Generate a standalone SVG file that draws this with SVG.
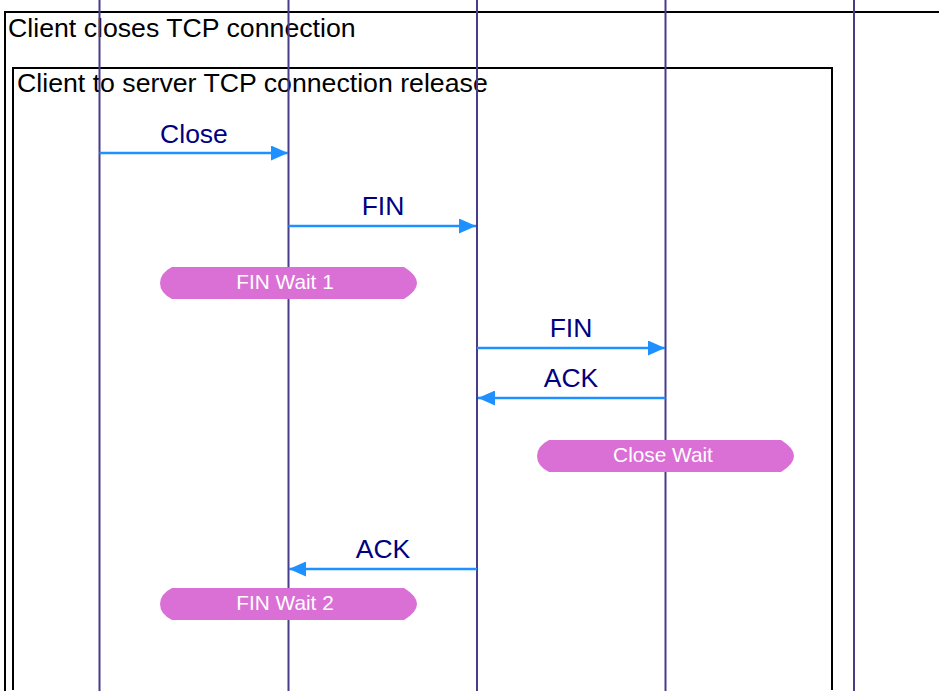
<svg xmlns="http://www.w3.org/2000/svg" width="939" height="698" viewBox="0 0 939 698">
<defs>
<style>
.frame{fill:none;stroke:#000;stroke-width:2}
.ftext{font-family:"Liberation Sans",Arial,sans-serif;font-size:26.7px;fill:#000}
.life{stroke:#483d8b;stroke-width:2}
.msg{stroke:#1e90ff;stroke-width:2.5;fill:none}
.mlabel{font-family:"Liberation Sans",Arial,sans-serif;font-size:26.5px;fill:#000080;text-anchor:middle}
.state{fill:#da70d6}
.stext{font-family:"Liberation Sans",Arial,sans-serif;font-size:20.8px;fill:#fff;text-anchor:middle}
</style>
<marker id="ah" viewBox="0 0 17 15" refX="17" refY="7.5" markerWidth="17" markerHeight="15" markerUnits="userSpaceOnUse" orient="auto">
<path d="M0,0 L17,7.5 L0,15 Z" fill="#1e90ff"/>
</marker>
</defs>
<rect width="939" height="698" fill="#fff"/>
<g id="frames">
<path class="frame" d="M5,691 V12 H945"/>
<path class="frame" d="M13,690 V68 H832 V690"/>
<text class="ftext" x="8" y="37">Client closes TCP connection</text>
<text class="ftext" x="17" y="92">Client to server TCP connection release</text>
</g>
<g id="lifelines">
<line class="life" x1="99.5" y1="0" x2="99.5" y2="691"/>
<line class="life" x1="288.5" y1="0" x2="288.5" y2="691"/>
<line class="life" x1="477" y1="0" x2="477" y2="691"/>
<line class="life" x1="665.5" y1="0" x2="665.5" y2="691"/>
<line class="life" x1="854" y1="0" x2="854" y2="691"/>
</g>
<g id="connectors">
<line class="msg" x1="99.5" y1="153" x2="288" y2="153" marker-end="url(#ah)"/>
<text class="mlabel" x="194" y="143">Close</text>
<line class="msg" x1="288.5" y1="226" x2="476" y2="226" marker-end="url(#ah)"/>
<text class="mlabel" x="383" y="215">FIN</text>
<line class="msg" x1="477" y1="348" x2="665" y2="348" marker-end="url(#ah)"/>
<text class="mlabel" x="571" y="337">FIN</text>
<line class="msg" x1="665.5" y1="398" x2="478" y2="398" marker-end="url(#ah)"/>
<text class="mlabel" x="571" y="387">ACK</text>
<line class="msg" x1="477" y1="569" x2="289" y2="569" marker-end="url(#ah)"/>
<text class="mlabel" x="383" y="558">ACK</text>
</g>
<g id="state-fin-wait-1">
<path class="state" d="M172,267 H404 Q417,275 417,283 Q417,291 404,299 H172 Q160,293 160,283 Q160,273 172,267 Z"/>
<text class="stext" x="285" y="289">FIN Wait 1</text>
</g>
<g id="state-close-wait">
<path class="state" d="M549,440 H781 Q794,448 794,456 Q794,464 781,472 H549 Q537,466 537,456 Q537,446 549,440 Z"/>
<text class="stext" x="663" y="462">Close Wait</text>
</g>
<g id="state-fin-wait-2">
<path class="state" d="M172,588 H404 Q417,596 417,604 Q417,612 404,620 H172 Q160,614 160,604 Q160,594 172,588 Z"/>
<text class="stext" x="285" y="610">FIN Wait 2</text>
</g>
</svg>
